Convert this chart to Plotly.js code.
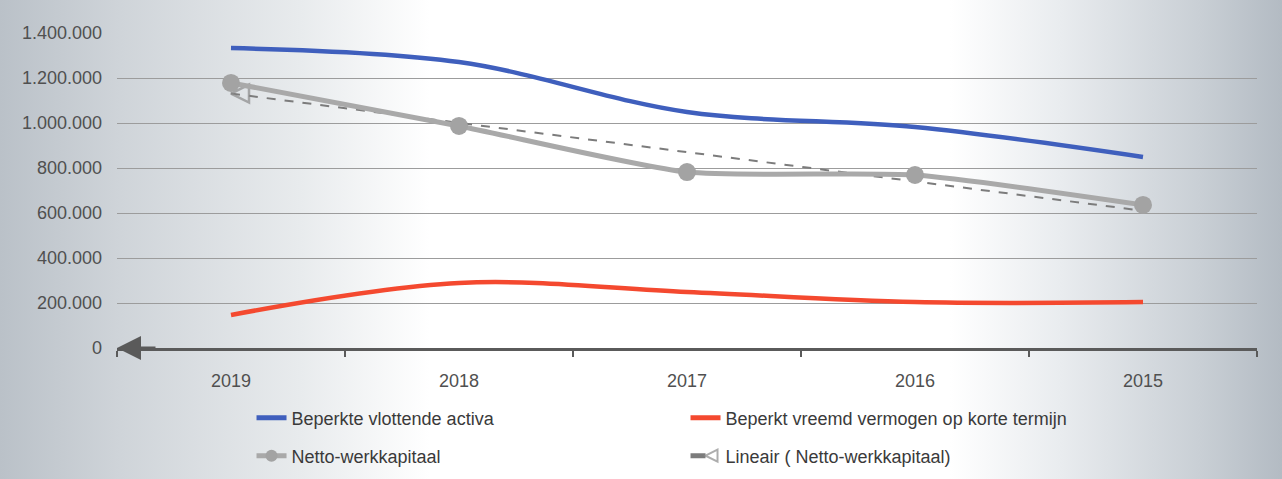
<!DOCTYPE html>
<html>
<head>
<meta charset="utf-8">
<script src="https://cdn.plot.ly/plotly-3.0.1.min.js"></script>
<style>
  html, body { margin: 0; padding: 0; }
  body {
    width: 1282px; height: 479px; overflow: hidden;
    background: linear-gradient(to right, #bac1c8 0px, #cfd4d9 120px, #e8ebed 300px, #ffffff 430px,
                #ffffff 950px, #e9ecef 1060px, #c9cfd5 1200px, #b3bbc3 1282px);
  }
  #chart { width: 1282px; height: 479px; }
</style>
</head>
<body>
<div id="chart"></div>
<script>
// (values in euro)
var years = ['2019', '2018', '2017', '2016', '2015'];
var vlottendeActiva = [1333000, 1271000, 1049000, 982000, 849000];
var vreemdVermogen = [147000, 289000, 249000, 204000, 204000];
var nettoWerkkapitaal = [1178000, 987000, 782000, 769000, 636000];
var lineairTrend = [1131000, 1000000, 870000, 740000, 610000];

var fontFamily = '"Liberation Sans", Arial, sans-serif';

var activa = {
    x: years,
    y: vlottendeActiva,
    mode: 'lines',
    line: { color: '#3f5fbd', width: 4.5, shape: 'spline', smoothing: 1 },
    name: 'Beperkte vlottende activa',
    legend: 'legend',
    type: 'scatter'
};

var vreemd = {
    x: years,
    y: vreemdVermogen,
    mode: 'lines',
    line: { color: '#f4492f', width: 4.5, shape: 'spline', smoothing: 1 },
    name: 'Beperkt vreemd vermogen op korte termijn',
    legend: 'legend',
    type: 'scatter'
};

var netto = {
    x: years,
    y: nettoWerkkapitaal,
    mode: 'lines+markers',
    line: { color: '#a9a9a9', width: 5, shape: 'spline', smoothing: 0.6 },
    marker: { color: '#a3a3a3', size: 18 },
    name: 'Netto-werkkapitaal',
    legend: 'legend2',
    type: 'scatter'
};

var trend = {
    x: years,
    y: lineairTrend,
    mode: 'lines+markers',
    line: { color: '#7c7c7c', width: 2, dash: 'dash' },
    marker: {
        color: '#8a8a8a',
        size: [18, 0, 0, 0, 0],
        symbol: ['arrow-left-open', 'circle', 'circle', 'circle', 'circle'],
        line: { color: '#8a8a8a', width: 2.5 }
    },
    name: 'Lineair ( Netto-werkkapitaal)',
    legend: 'legend2',
    type: 'scatter'
};

var data = [activa, vreemd, trend, netto];

var legendBase = {
    orientation: 'h',
    xref: 'paper',
    yref: 'container',
    xanchor: 'left',
    yanchor: 'middle',
    x: 0.118,
    entrywidth: 389,
    entrywidthmode: 'pixels',
    traceorder: 'normal',
    itemsizing: 'constant',
    bgcolor: 'rgba(0,0,0,0)',
    font: { family: fontFamily, size: 18, color: '#3a3a3a' }
};

var layout = {
    width: 1282,
    height: 479,
    margin: { l: 117, r: 25, t: 33, b: 131 },
    paper_bgcolor: 'rgba(0,0,0,0)',
    plot_bgcolor: 'rgba(0,0,0,0)',
    separators: ',.',
    showlegend: true,
    legend: Object.assign({}, legendBase, { y: 0.127 }),
    legend2: Object.assign({}, legendBase, { y: 0.048, traceorder: 'reversed' }),
    xaxis: {
        type: 'category',
        range: [-0.5, 4.5],
        showgrid: false,
        showline: true,
        linecolor: '#5a5a5a',
        linewidth: 3,
        ticks: 'outside',
        tickson: 'boundaries',
        ticklen: 6,
        tickwidth: 2,
        tickcolor: '#5a5a5a',
        ticklabelstandoff: 14,
        tickfont: { family: fontFamily, size: 18, color: '#505050' },
        zeroline: false
    },
    yaxis: {
        range: [0, 1400000],
        dtick: 200000,
        tickformat: ',d',
        showgrid: true,
        gridcolor: '#9c9c9c',
        gridwidth: 1,
        zeroline: false,
        showline: false,
        ticks: '',
        ticklabelstandoff: 14,
        tickfont: { family: fontFamily, size: 18, color: '#505050' }
    },
    annotations: [{
        xref: 'paper', yref: 'y',
        x: 0, y: 0,
        ax: 40, ay: 0,
        text: '',
        showarrow: true,
        arrowhead: 2,
        arrowsize: 1.6,
        arrowwidth: 3,
        arrowcolor: '#5a5a5a'
    }]
};

Plotly.newPlot('chart', data, layout, { displayModeBar: false, staticPlot: true });
</script>
</body>
</html>
